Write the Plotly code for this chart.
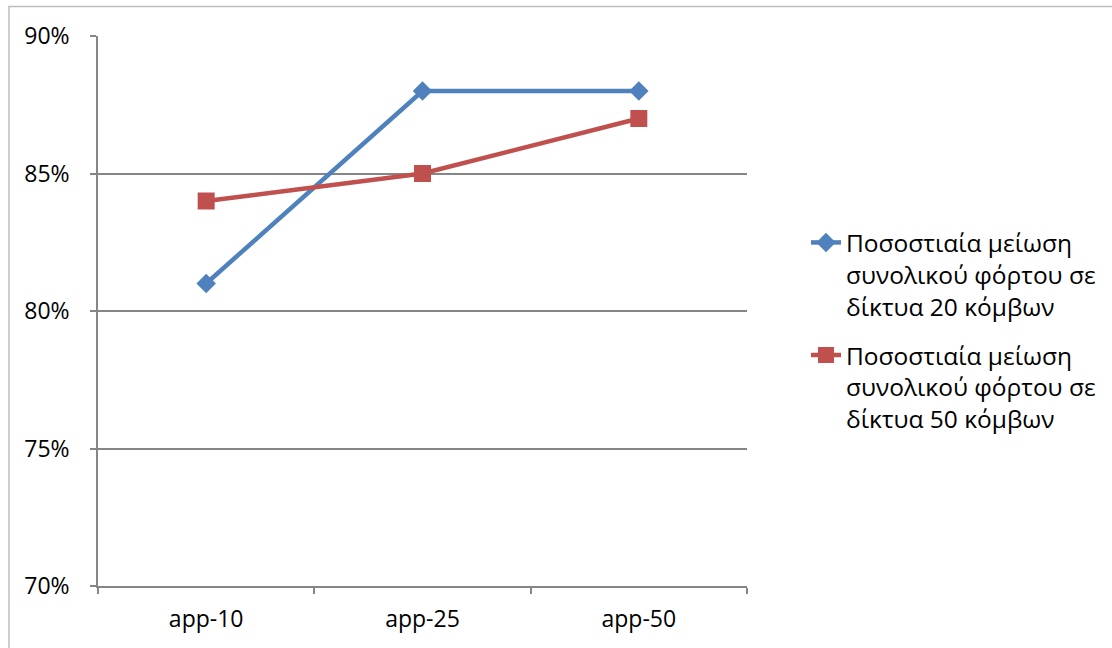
import plotly.graph_objects as go

categories = ["app-10", "app-25", "app-50"]
series_20 = [81, 88, 88]
series_50 = [84, 85, 87]
name_20 = "Ποσοστιαία μείωση<br>συνολικού φόρτου σε<br>δίκτυα 20 κόμβων"
name_50 = "Ποσοστιαία μείωση<br>συνολικού φόρτου σε<br>δίκτυα 50 κόμβων"
y_ticks = [70, 75, 80, 85, 90]
y_labels = ["70%", "75%", "80%", "85%", "90%"]

W, H = 1112, 648
L, R, T, B = 98, 365, 36, 62
pw, ph = W - L - R, H - T - B

FONT = "Open Sans"
GRAY = "#868686"
xs = [i + 0.5 for i in range(len(categories))]

fig = go.Figure()
fig.add_trace(go.Scatter(
    x=xs, y=series_20, name=name_20, mode="lines+markers", legendgroup="n20",
    line=dict(color="#4F81BD", width=4.5),
    marker=dict(symbol="diamond", size=15, color="#4F81BD"),
))
fig.add_trace(go.Scatter(
    x=xs, y=series_50, name=name_50, mode="lines+markers", legendgroup="n50",
    line=dict(color="#C0504D", width=4.5),
    marker=dict(symbol="square", size=17, color="#C0504D"),
))

fig.update_layout(
    width=W, height=H,
    margin=dict(l=L, r=R, t=T, b=B, autoexpand=False),
    paper_bgcolor="white", plot_bgcolor="white",
    font=dict(family=FONT, size=23, color="#000000"),
    showlegend=True,
    legend=dict(
        x=(806 - L) / pw, xanchor="left",
        y=1 - (220 - T) / ph, yanchor="top",
        font=dict(family=FONT, size=24.5),
        tracegroupgap=14, valign="top",
        bgcolor="rgba(0,0,0,0)",
    ),
    xaxis=dict(
        range=[0, len(categories)],
        tickmode="array", tickvals=xs, ticktext=categories,
        ticks="", showgrid=False, zeroline=False,
        showline=True, linecolor=GRAY, linewidth=1.5,
        ticklabelstandoff=12,
        minor=dict(tickmode="array", tickvals=list(range(len(categories) + 1)),
                   ticks="outside", ticklen=6, tickcolor=GRAY, tickwidth=1.5,
                   showgrid=False),
        fixedrange=True,
    ),
    yaxis=dict(
        range=[70, 90],
        tickmode="array", tickvals=y_ticks, ticktext=y_labels,
        ticks="outside", ticklen=6, tickcolor=GRAY, tickwidth=1.5,
        showgrid=True, gridcolor=GRAY, gridwidth=1.5,
        zeroline=False, showline=True, linecolor=GRAY, linewidth=1.5,
        ticklabelstandoff=16,
        fixedrange=True,
    ),
    shapes=[dict(
        type="rect", xref="paper", yref="paper",
        x0=(9 - L) / pw, x1=(W + 50 - L) / pw,
        y0=-(B + 50) / ph, y1=1 + (T - 6.5) / ph,
        line=dict(color="#BDBDBD", width=1.5), layer="below",
    )],
)

fig.write_html("out.html")
